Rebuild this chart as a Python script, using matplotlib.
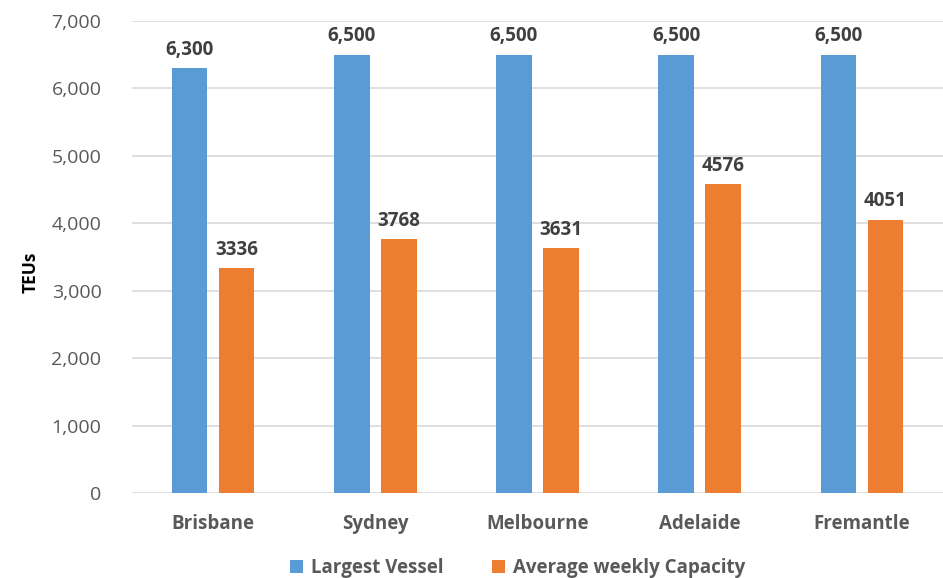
import numpy as np
import matplotlib.pyplot as plt
from matplotlib.ticker import FuncFormatter

ports = ["Brisbane", "Sydney", "Melbourne", "Adelaide", "Fremantle"]
largest_vessel = [6300, 6500, 6500, 6500, 6500]
avg_weekly_capacity = [3336, 3768, 3631, 4576, 4051]

BLUE = "#5B9BD5"
ORANGE = "#ED7D31"
GREY_TEXT = "#595959"

plt.rcParams["font.family"] = ["Open Sans", "DejaVu Sans"]

fig = plt.figure(figsize=(9.43, 5.78), dpi=100)
ax = fig.add_axes([0.14, 0.147, 0.86, 0.817])

x = np.arange(len(ports))
width = 0.22
offset = 0.145

b1 = ax.bar(x - offset, largest_vessel, width, color=BLUE, label="Largest Vessel", zorder=3)
b2 = ax.bar(x + offset, avg_weekly_capacity, width, color=ORANGE,
            label="Average weekly Capacity", zorder=3)

# value labels above each bar
for bar, v in zip(b1, largest_vessel):
    ax.annotate(f"{v:,}", (bar.get_x() + bar.get_width() / 2, v),
                xytext=(0, 6), textcoords="offset points", ha="center", va="bottom",
                fontsize=13.5, fontweight="bold", color="#404040")
for bar, v in zip(b2, avg_weekly_capacity):
    ax.annotate(f"{v}", (bar.get_x() + bar.get_width() / 2, v),
                xytext=(0, 6), textcoords="offset points", ha="center", va="bottom",
                fontsize=13.5, fontweight="bold", color="#404040")

ax.set_xlim(-0.5, 4.5)
ax.set_ylim(0, 7000)
ax.set_yticks(np.arange(0, 7001, 1000))
ax.yaxis.set_major_formatter(FuncFormatter(lambda v, _: f"{int(v):,}"))
ax.set_xticks(x)
ax.set_xticklabels(ports, fontweight="bold")
ax.tick_params(axis="y", length=0, labelsize=14, labelcolor=GREY_TEXT, pad=22)
ax.tick_params(axis="x", length=0, labelsize=13.5, labelcolor=GREY_TEXT, pad=15)

ax.grid(axis="y", color="#D9D9D9", linewidth=1.2, zorder=0)
for s in ax.spines.values():
    s.set_visible(False)

fig.text(31 / 943, 1 - 272 / 578, "TEUs", rotation=90, ha="center", va="center",
         fontsize=12.5, fontweight="bold", color="black")

leg = fig.legend(handles=[b1, b2], loc="lower center", bbox_to_anchor=(0.549, -0.03), ncol=2,
                 frameon=False, handlelength=0.7, handleheight=0.7, handletextpad=0.4,
                 columnspacing=2.6, fontsize=13.5)
for t in leg.get_texts():
    t.set_fontweight("bold")
    t.set_color(GREY_TEXT)

fig.savefig("out.png", dpi=100)
